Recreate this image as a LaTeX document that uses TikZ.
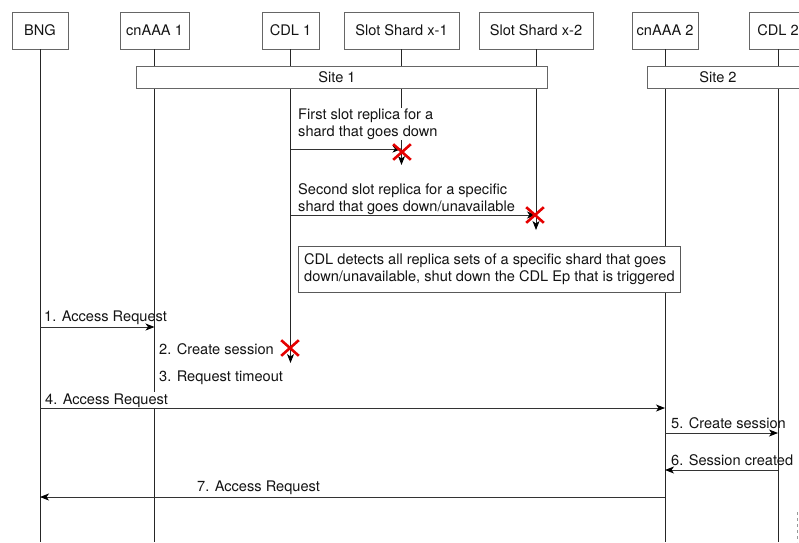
\documentclass[tikz,border=0pt]{standalone}
\usepackage{fontspec}
\setmainfont{TeX Gyre Heros}
\usetikzlibrary{arrows.meta,shapes.misc}
\begin{document}
\begin{tikzpicture}[x=1pt,y=-1pt,
  every node/.style={font=\fontsize{14.6}{16.5}\selectfont, text=black!92},
  hdr/.style={draw=black!60, line width=0.8pt, fill=white, minimum height=37pt, inner sep=0pt},
  sitebox/.style={draw=black!60, line width=0.8pt, fill=white, minimum height=22pt, inner sep=0pt},
  life/.style={draw=black!85, line width=0.9pt},
  tip/.style={-{Stealth[length=9pt,width=7pt,inset=2.5pt,black]}},
  msg/.style={draw=black!80, line width=0.9pt, tip},
  lbl/.style={anchor=base west, inner sep=0pt},
  wlbl/.style={anchor=base west, inner sep=1pt, fill=white},
  xmark/.style={draw=red!90!black, cross out, line width=2.6pt, minimum width=15pt, minimum height=13pt, inner sep=0pt},
  note/.style={draw=black!65, line width=0.8pt, fill=white, anchor=north west, minimum width=382pt, inner xsep=3pt, inner ysep=7pt, align=left, font=\fontsize{14.6}{17.5}\selectfont}
]
\useasboundingbox (0,0) rectangle (799,542);
\clip (0,0) rectangle (799,542);
\fill[white] (0,0) rectangle (799,542);

% header boxes
\node[hdr, minimum width=56pt] (bng) at (40,30.5) {BNG};
\node[hdr, minimum width=69pt] (cn1) at (154.5,30.5) {cnAAA 1};
\node[hdr, minimum width=57pt] (cdl1) at (290.5,30.5) {CDL 1};
\node[hdr, minimum width=115pt] (x1) at (401.5,30.5) {Slot Shard x-1};
\node[hdr, minimum width=114pt] (x2) at (536,30.5) {Slot Shard x-2};
\node[hdr, minimum width=66pt] (cn2) at (665,30.5) {cnAAA 2};
\node[hdr, minimum width=58pt] (cdl2) at (778,30.5) {CDL 2};

% reference rows
\coordinate (bottom) at (0,542);
\coordinate (yx1end) at (0,165);
\coordinate (yx2end) at (0,230);
\coordinate (ycdlend) at (0,363);
\coordinate (ym1) at (0,149);
\coordinate (ym2) at (0,215);
\coordinate (ya1) at (0,327);
\coordinate (ya4) at (0,408);
\coordinate (ya5) at (0,433);
\coordinate (ya6) at (0,470);
\coordinate (ya7) at (0,497);

% lifelines
\draw[life] (bng.south) -- (bng |- bottom);
\draw[life] (cn1.south) -- (cn1 |- bottom);
\draw[life, tip] (cdl1.south) -- (cdl1 |- ycdlend);
\draw[life, tip] (x1.south) -- (x1 |- yx1end);
\draw[life, tip] (x2.south) -- (x2 |- yx2end);
\draw[life] (cn2.south) -- (cn2 |- bottom);
\draw[life] (cdl2.south) -- (cdl2 |- bottom);

% site bars
\node[sitebox, minimum width=411pt] (site1) at (341.5,77) {};
\node[inner sep=0pt] (site1t) at (337,77) {Site 1};
\node[sitebox, minimum width=180pt] (site2) at (737,77) {};
\node[inner sep=0pt] (site2t) at (718,77) {Site 2};

% failing slot replicas
\node[wlbl, align=left] (t1) at (297,136) {First slot replica for a\\shard that goes down};
\draw[msg] (cdl1 |- ym1) -- (x1 |- ym1);
\node[xmark] (xx1) at (402,152) {};

\node[lbl, align=left] (t2) at (298,211) {Second slot replica for a specific\\shard that goes down/unavailable};
\draw[msg] (cdl1 |- ym2) -- (x2 |- ym2);
\node[xmark] (xx2) at (535,215) {};

\node[note] (nt) at (298,246) {CDL detects all replica sets of a specific shard that goes\\down/unavailable, shut down the CDL Ep that is triggered};

% messages
\draw[msg] (bng |- ya1) -- (cn1 |- ya1);
\node[lbl] (l1) at (44,321) {1. Access Request};
\node[lbl] (l2) at (159,354) {2. Create session};
\node[xmark] (xx3) at (290,348) {};
\node[lbl] (l3) at (159,381) {3. Request timeout};
\draw[msg] (bng |- ya4) -- (cn2 |- ya4);
\node[wlbl] (l4) at (44,404) {4. Access Request};
\draw[msg] (cn2 |- ya5) -- (cdl2 |- ya5);
\node[lbl] (l5) at (671,428) {5. Create session};
\draw[msg] (cdl2 |- ya6) -- (cn2 |- ya6);
\node[lbl] (l6) at (671,465) {6. Session created};
\draw[msg] (cn2 |- ya7) -- (bng |- ya7);
\node[lbl] (l7) at (197,491) {7. Access Request};

% stray dashed mark at right edge
\coordinate (d1) at (797,512);
\coordinate (d2) at (797,542);
\draw[black!40, dashed, line width=0.6pt] (d1) -- (d2);
\end{tikzpicture}
\end{document}
